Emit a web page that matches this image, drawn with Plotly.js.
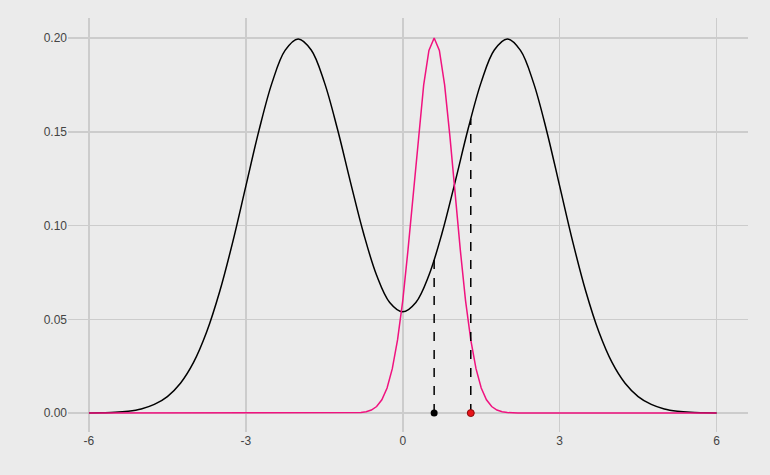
<!DOCTYPE html>
<html>
<head>
<meta charset="utf-8">
<script src="https://cdn.plot.ly/plotly-3.0.1.min.js"></script>
<style>body{margin:0;background:#ebebeb;}</style>
</head>
<body>
<div id="chart" style="width:770px;height:475px;"></div>
<script>
// mixture density (black), read at steps of 0.25
var mixX = [];
for (var i = -24; i <= 24; i++) mixX.push(i / 4);
var mixRight = [0.0540, 0.0590, 0.0735, 0.0959, 0.1232, 0.1516, 0.1765, 0.1936, 0.1995,
    0.1934, 0.1761, 0.1506, 0.1210, 0.0913, 0.0648, 0.0432, 0.0270, 0.0159, 0.0088,
    0.0046, 0.0022, 0.0010, 0.0004, 0.0002, 0.0001];
var mixY = mixRight.slice(1).reverse().concat(mixRight);

// narrow proposal density (pink)
var propX = [-6, -1, -0.9, -0.8, -0.7, -0.6, -0.5, -0.4, -0.3, -0.2, -0.1, 0, 0.1, 0.2, 0.3, 0.4, 0.5, 0.6,
    0.7, 0.8, 0.9, 1.0, 1.1, 1.2, 1.3, 1.4, 1.5, 1.6, 1.7, 1.8, 1.9, 2.0, 2.1, 2.2, 6];
var propY = [0, 0, 0.0001, 0.0003, 0.0007, 0.0016, 0.0035, 0.0071, 0.0134, 0.0237, 0.039, 0.060, 0.087,
    0.117, 0.148, 0.175, 0.1934, 0.2, 0.1934, 0.175, 0.148, 0.117, 0.087, 0.060, 0.039, 0.0237,
    0.0134, 0.0071, 0.0035, 0.0016, 0.0007, 0.0003, 0.0001, 0, 0];

// current and proposed positions
var curX = 0.6, curY = 0.0817;
var newX = 1.3, newY = 0.157;

var traces = [
    {x: mixX, y: mixY, mode: 'lines', line: {color: '#000000', width: 1.5, shape: 'spline'}},
    {x: propX, y: propY, mode: 'lines', line: {color: '#f0127f', width: 1.5}},
    {x: [curX, curX], y: [0, curY], mode: 'lines', line: {color: '#000000', width: 1.5, dash: 'dash'}},
    {x: [newX, newX], y: [0, newY], mode: 'lines', line: {color: '#000000', width: 1.5, dash: 'dash'}},
    {x: [curX], y: [0], mode: 'markers', marker: {color: '#000000', size: 7}},
    {x: [newX], y: [0], mode: 'markers', marker: {color: '#e8141a', size: 7, line: {color: '#8a0a0a', width: 1}}}
];

var layout = {
    width: 770, height: 475,
    paper_bgcolor: '#ebebeb', plot_bgcolor: '#ebebeb',
    margin: {l: 68, r: 22, t: 18, b: 43},
    showlegend: false,
    font: {family: 'Liberation Sans, Arial, sans-serif', size: 12, color: '#444444'},
    xaxis: {
        range: [-6.4, 6.6], tickvals: [-6, -3, 0, 3, 6], ticktext: ['-6', '-3', '0', '3', '6'],
        showgrid: true, gridcolor: '#cccccc', gridwidth: 1.5, zeroline: false, showline: false, ticks: ''
    },
    yaxis: {
        range: [-0.0101, 0.2107], tickvals: [0, 0.05, 0.1, 0.15, 0.2],
        ticktext: ['0.00', '0.05', '0.10', '0.15', '0.20'],
        showgrid: true, gridcolor: '#cccccc', gridwidth: 1.5, zeroline: false, showline: false, ticks: ''
    }
};

Plotly.newPlot('chart', traces, layout, {staticPlot: true});
</script>
</body>
</html>
